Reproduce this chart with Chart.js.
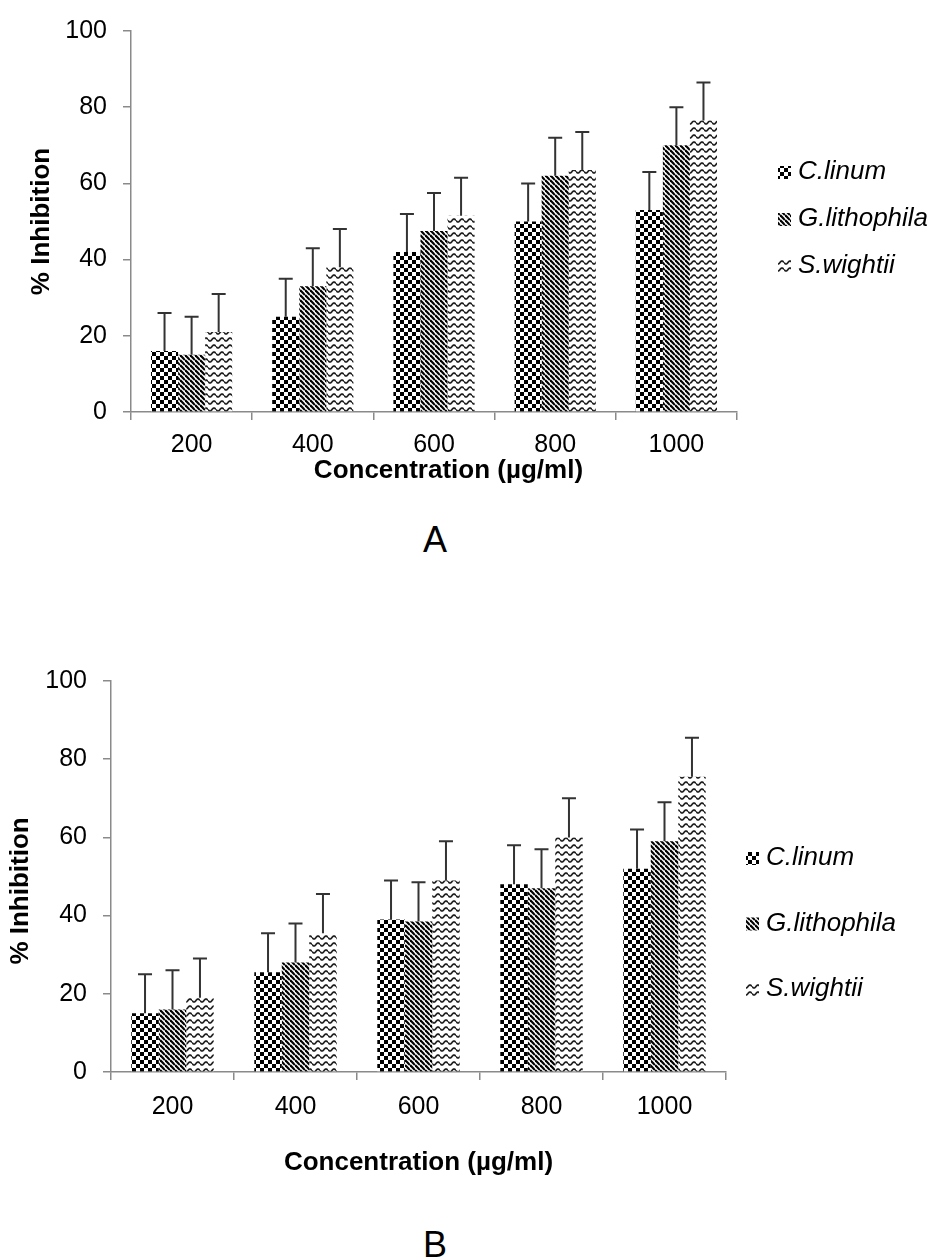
<!DOCTYPE html>
<html>
<head>
<meta charset="utf-8">
<title>% Inhibition</title>
<script src="https://cdn.jsdelivr.net/npm/chart.js@4.4.1/dist/chart.umd.min.js"></script>
<style>
  body { margin: 0; background: #fff; }
  #page { position: relative; width: 932px; height: 1258px; overflow: hidden; }
  canvas { position: absolute; left: 0; }
  #chartA { top: 0; }
  #chartB { top: 640px; }
  .panel { position: absolute; width: 100px; text-align: center; color: #000;
           font: 36px "Liberation Sans", Arial, sans-serif; line-height: 36px; }
</style>
</head>
<body>
<div id="page">
  <canvas id="chartA" width="932" height="500"></canvas>
  <canvas id="chartB" width="932" height="560"></canvas>
  <div class="panel" style="left:385px; top:522px;">A</div>
  <div class="panel" style="left:385px; top:1227px;">B</div>
</div>
<script>
// data
const concentrations = ['200', '400', '600', '800', '1000'];
const speciesNames = ['C.linum', 'G.lithophila', 'S.wightii'];
const yTicks = [0, 20, 40, 60, 80, 100];

// panel A
const linumA = [16, 25, 42, 50, 53];
const lithophilaA = [15, 33, 47.5, 62, 70];
const wightiiA = [21, 38, 51.5, 63.5, 76.5];
const errA = [10, 10, 10, 10, 10];

// panel B
const linumB = [15, 25.5, 39, 48, 52];
const lithophilaB = [16, 28, 38.5, 47, 59];
const wightiiB = [19, 35.5, 49, 60, 75.5];
const errB = [10, 10, 10, 10, 10];

Chart.defaults.font.family = '"Liberation Sans", Arial, sans-serif';
Chart.defaults.color = '#000';

function makePattern(w, h, draw) {
    const c = document.createElement('canvas');
    c.width = w;
    c.height = h;
    const g = c.getContext('2d');
    g.fillStyle = '#fff';
    g.fillRect(0, 0, w, h);
    draw(g, w, h);
    return g.createPattern(c, 'repeat');
}

const checker = makePattern(8, 8, (g) => {
    g.fillStyle = '#000';
    g.fillRect(0, 0, 4, 4);
    g.fillRect(4, 4, 4, 4);
});
const hatch = makePattern(5, 5, (g, w, h) => {
    g.strokeStyle = '#000';
    g.lineWidth = 2.2;
    for (let k = -1; k <= 1; k++) {
        g.beginPath();
        g.moveTo(0, k * h);
        g.lineTo(w, h + k * h);
        g.stroke();
    }
});
const wave = makePattern(8, 7, (g, w) => {
    g.strokeStyle = '#222';
    g.lineWidth = 1.7;
    g.beginPath();
    for (let x = 0; x <= w; x += 0.5) {
        const y = 3.5 + 1.5 * Math.sin(x / w * 2 * Math.PI);
        if (x === 0) g.moveTo(x, y); else g.lineTo(x, y);
    }
    g.stroke();
});
const fills = [checker, hatch, wave];

// upward error bars, placed with the chart's own scale
const errorBars = {
    id: 'errorBars',
    afterDatasetsDraw(chart) {
        const ctx = chart.ctx;
        const yScale = chart.scales.y;
        ctx.save();
        ctx.strokeStyle = '#333';
        ctx.lineWidth = 2;
        chart.data.datasets.forEach((ds, i) => {
            chart.getDatasetMeta(i).data.forEach((bar, j) => {
                const yTop = yScale.getPixelForValue(ds.data[j] + ds.errors[j]);
                ctx.beginPath();
                ctx.moveTo(bar.x, bar.y);
                ctx.lineTo(bar.x, yTop);
                ctx.moveTo(bar.x - 7, yTop);
                ctx.lineTo(bar.x + 7, yTop);
                ctx.stroke();
            });
        });
        ctx.restore();
    }
};

// legend to the right of the plot
const sideLegend = {
    id: 'sideLegend',
    afterDraw(chart, args, opts) {
        const ctx = chart.ctx;
        ctx.save();
        ctx.font = 'italic 26px "Liberation Sans", Arial, sans-serif';
        ctx.textBaseline = 'middle';
        chart.data.datasets.forEach((ds, i) => {
            const yc = opts.y + i * opts.gap;
            ctx.fillStyle = ds.backgroundColor;
            ctx.fillRect(opts.x, yc - 6, 13, 13);
            ctx.fillStyle = '#000';
            ctx.fillText(ds.label, opts.textX, yc);
        });
        ctx.restore();
    }
};

function drawPanel(id, series, errors, cfg) {
    const axisGrey = '#8a8a8a';
    new Chart(document.getElementById(id), {
        type: 'bar',
        data: {
            labels: concentrations,
            datasets: series.map((vals, i) => ({
                label: speciesNames[i],
                data: vals,
                errors: errors,
                backgroundColor: fills[i],
                borderWidth: 0,
                categoryPercentage: 0.67,
                barPercentage: 1.0
            }))
        },
        options: {
            responsive: false,
            animation: false,
            events: [],
            layout: { padding: cfg.padding },
            plugins: {
                legend: { display: false },
                tooltip: { enabled: false },
                sideLegend: cfg.legend
            },
            scales: {
                x: {
                    ticks: { color: '#000', font: { size: 25 }, padding: cfg.xTickPad },
                    grid: { drawOnChartArea: false, tickLength: 8, color: axisGrey, lineWidth: 1.5 },
                    border: { color: axisGrey, width: 1.5 },
                    title: { display: true, text: cfg.xTitle, color: '#000',
                             font: { size: 26, weight: 'bold' }, padding: { top: 0, bottom: cfg.xTitlePad } },
                    afterFit: s => { s.height = cfg.xHeight; }
                },
                y: {
                    min: yTicks[0],
                    max: yTicks[yTicks.length - 1],
                    ticks: { stepSize: yTicks[1] - yTicks[0], color: '#000', font: { size: 25 }, padding: 16 },
                    grid: { drawOnChartArea: false, tickLength: 8, color: axisGrey, lineWidth: 1.5 },
                    border: { color: axisGrey, width: 1.5 },
                    title: { display: true, text: cfg.yTitle, color: '#000',
                             font: { size: 26, weight: 'bold' }, padding: { top: cfg.yTitlePad, bottom: 0 } },
                    afterFit: s => { s.width = cfg.yWidth; }
                }
            }
        },
        plugins: [errorBars, sideLegend]
    });
}

drawPanel('chartA', [linumA, lithophilaA, wightiiA], errA, {
    padding: { top: 25, right: 195, bottom: 0, left: 0 },
    yWidth: 131, xHeight: 88, xTickPad: 10, xTitlePad: 14, yTitlePad: 26,
    xTitle: '    Concentration (µg/ml)', yTitle: '% Inhibition',
    legend: { x: 778, textX: 798, y: 172, gap: 47 }
});

drawPanel('chartB', [linumB, lithophilaB, wightiiB], errB, {
    padding: { top: 41, right: 206, bottom: 0, left: 0 },
    yWidth: 111, xHeight: 128, xTickPad: 12, xTitlePad: 22, yTitlePad: 5,
    xTitle: 'Concentration (µg/ml)', yTitle: '% Inhibition    ',
    legend: { x: 746, textX: 766, y: 218, gap: 65.5 }
});
</script>
</body>
</html>
